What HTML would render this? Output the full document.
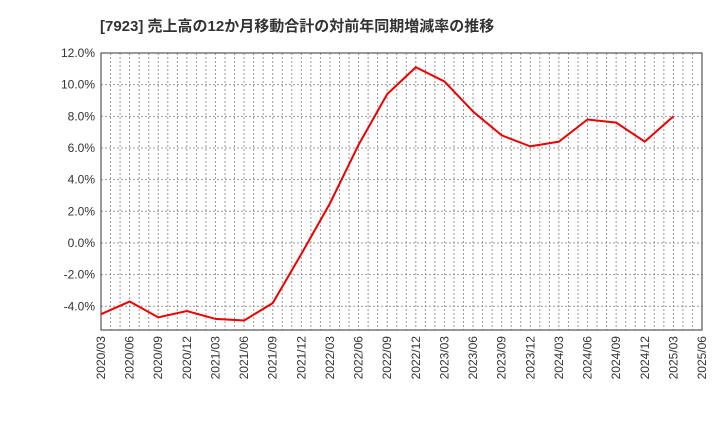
<!DOCTYPE html>
<html><head><meta charset="utf-8"><style>
body{margin:0;background:#fff;font-family:"Liberation Sans","Noto Sans CJK JP",sans-serif;}
</style></head><body>
<svg id="c" width="720" height="440" xmlns="http://www.w3.org/2000/svg">
<text x="100" y="31" font-size="15" font-weight="bold" fill="#333">[7923]  売上高の12か月移動合計の対前年同期増減率の推移</text>
<g id="grid"></g><g id="axes"></g>
<rect x="101" y="53" width="601" height="277" fill="none" stroke="#333"/>
</svg>
<script>
const labels=["2020/03","2020/06","2020/09","2020/12","2021/03","2021/06","2021/09","2021/12","2022/03","2022/06","2022/09","2022/12","2023/03","2023/06","2023/09","2023/12","2024/03","2024/06","2024/09","2024/12","2025/03","2025/06"];
const values=[-4.5,-3.7,-4.7,-4.3,-4.8,-4.9,-3.8,-0.7,2.5,6.2,9.4,11.1,10.2,8.3,6.8,6.1,6.4,7.8,7.6,6.4,8.0];
const yTicks=[-4,-2,0,2,4,6,8,10,12];
const ns="http://www.w3.org/2000/svg";
const L=101,R=702,T=53,B=330,yMin=-5.5,yMax=12;
const x=i=>L+(R-L)*i/(labels.length-1);
const y=v=>B-(v-yMin)/(yMax-yMin)*(B-T);
const svg=document.getElementById('c'),grid=document.getElementById('grid'),axes=document.getElementById('axes');
function mk(t,a,p){const e=document.createElementNS(ns,t);for(const k in a)e.setAttribute(k,a[k]);p.appendChild(e);return e;}
for(let m=1;m<(labels.length-1)*3;m++){const xx=L+(R-L)*m/((labels.length-1)*3);
const g=mk('line',{x1:xx,x2:xx,y1:T,y2:B,stroke:'#999','stroke-dasharray':'2,2','stroke-width':1},grid);

}
yTicks.forEach(v=>{const g=mk('line',{x1:L,x2:R,y1:y(v),y2:y(v),stroke:'#999','stroke-dasharray':'2,2'},grid);


const t=mk('text',{x:L-6,y:y(v)+4,'font-size':12,fill:'#333','text-anchor':'end'},axes);t.textContent=v.toFixed(1)+'%';

});
labels.forEach((s,i)=>{const t=mk('text',{x:x(i)+4,y:B+6,'font-size':12,fill:'#333','text-anchor':'end',transform:`rotate(-90 ${x(i)+4} ${B+6})`},axes);t.textContent=s;

});
const p=mk('polyline',{points:values.map((v,i)=>x(i)+','+y(v)).join(' '),fill:'none',stroke:'#e00',"stroke-width":2},svg);


</script>
</body></html>
